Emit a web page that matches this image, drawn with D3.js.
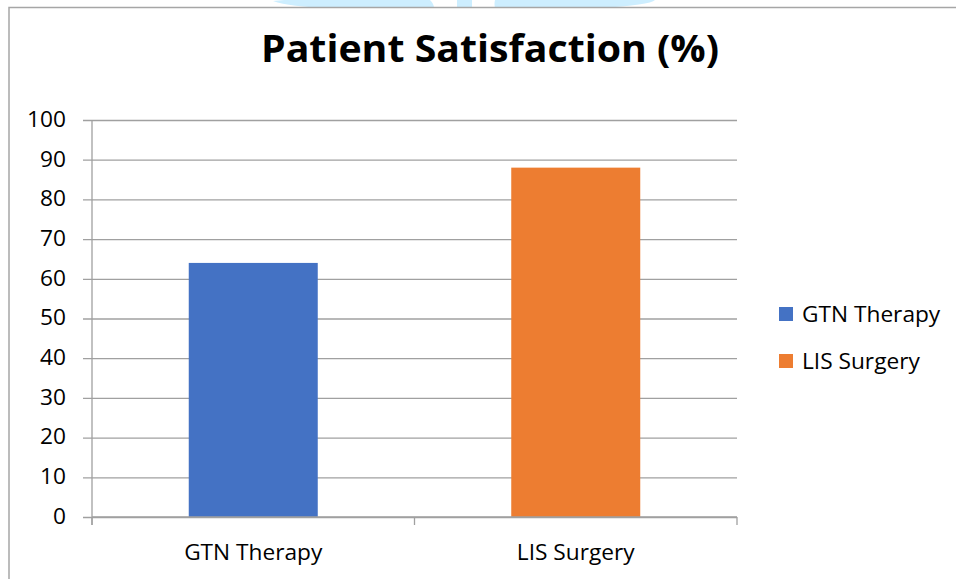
<!DOCTYPE html>
<html>
<head>
<meta charset="utf-8">
<script src="https://cdn.jsdelivr.net/npm/d3@7"></script>
<style>
  body { margin: 0; background: #fff; }
  svg { display: block; font-family: 'Open Sans', sans-serif; }
</style>
</head>
<body>
<svg id="chart" width="956" height="579"></svg>
<script>
// data
const categories = ['GTN Therapy', 'LIS Surgery'];
const values = [64, 88];
const colors = ['#4472C4', '#ED7D31'];
const yTicks = [0, 10, 20, 30, 40, 50, 60, 70, 80, 90, 100];
const title = 'Patient Satisfaction (%)';

const svg = d3.select('#chart');
const margin = { top: 120, left: 92, right: 219, bottom: 62 };
const width = 956 - margin.left - margin.right;
const height = 579 - margin.top - margin.bottom;
const font = "'Open Sans', sans-serif";

// faint watermark peeking in above the frame
const wm = svg.append('g').attr('fill', '#cdeeff');
wm.append('path').attr('d', 'M273,1 Q300,-2 350,0 L430,0 Q434,4 434,8 L330,8 Q290,7 273,1 Z');
wm.append('rect').attr('x', 457).attr('y', 0).attr('width', 15).attr('height', 8);
wm.append('path').attr('d', 'M495,0 L655,0 Q650,5 600,8 L495,8 Q494,4 495,0 Z');

// chart frame
svg.append('rect')
  .attr('x', 9).attr('y', 7.5)
  .attr('width', 980).attr('height', 600)
  .attr('fill', 'none')
  .attr('stroke', '#a6a6a6')
  .attr('stroke-width', 1.5);

svg.append('text')
  .attr('x', 490).attr('y', 62)
  .attr('text-anchor', 'middle')
  .attr('font-size', 38)
  .attr('font-weight', 700)
  .attr('textLength', 458)
  .attr('lengthAdjust', 'spacingAndGlyphs')
  .attr('fill', '#000')
  .text(title);

const g = svg.append('g')
  .attr('transform', `translate(${margin.left}, ${margin.top})`);

const xOuter = d3.scaleBand().domain(categories).range([0, width]);
const y = d3.scaleLinear().domain([0, 100]).range([height, 0]);

// gridlines + y ticks
const yAxis = g.append('g')
  .call(d3.axisLeft(y).tickValues(yTicks).tickSize(-width).tickSizeOuter(0).tickPadding(0))
  .attr('font-family', font);
yAxis.select('.domain').remove();
yAxis.selectAll('.tick line')
  .attr('stroke', '#a0a0a0')
  .attr('stroke-width', 1.3)
  .attr('x1', -9);
yAxis.selectAll('.tick text')
  .attr('x', -26)
  .attr('dy', '0.28em')
  .attr('font-size', 22.7)
  .attr('fill', '#000');

// vertical axis line
g.append('line')
  .attr('x1', 0).attr('x2', 0)
  .attr('y1', 0).attr('y2', height + 8)
  .attr('stroke', '#a0a0a0').attr('stroke-width', 1.3);

// bars
g.selectAll('.bar')
  .data(categories)
  .join('rect')
  .attr('class', 'bar')
  .attr('x', d => xOuter(d) + (xOuter.bandwidth() - xOuter.bandwidth() * 0.4) / 2)
  .attr('width', xOuter.bandwidth() * 0.4)
  .attr('y', (d, i) => y(values[i]))
  .attr('height', (d, i) => height - y(values[i]))
  .attr('fill', (d, i) => colors[i]);

// x axis
const xAxis = g.append('g')
  .attr('transform', `translate(0, ${height})`)
  .call(d3.axisBottom(xOuter).tickSize(0).tickPadding(0))
  .attr('font-family', font);
xAxis.select('.domain')
  .attr('stroke', '#a0a0a0').attr('stroke-width', 1.3)
  .attr('d', `M0,0H${width}`);
xAxis.selectAll('.tick text')
  .attr('y', 43)
  .attr('dy', 0)
  .attr('font-size', 22.7)
  .attr('fill', '#000');

// category boundary ticks
const bounds = categories.map(d => xOuter(d)).concat([width]);
g.selectAll('.xtick')
  .data(bounds)
  .join('line')
  .attr('class', 'xtick')
  .attr('x1', d => d).attr('x2', d => d)
  .attr('y1', height).attr('y2', height + 8)
  .attr('stroke', '#a0a0a0').attr('stroke-width', 1.3);

// legend
const legend = svg.append('g').attr('transform', 'translate(779, 307)');
const item = legend.selectAll('.item')
  .data(categories)
  .join('g')
  .attr('class', 'item')
  .attr('transform', (d, i) => `translate(0, ${i * 47})`);
item.append('rect')
  .attr('width', 14).attr('height', 14)
  .attr('fill', (d, i) => colors[i]);
item.append('text')
  .attr('x', 23).attr('y', 14.5)
  .attr('font-size', 22.7)
  .attr('fill', '#000')
  .text(d => d);
</script>
</body>
</html>
